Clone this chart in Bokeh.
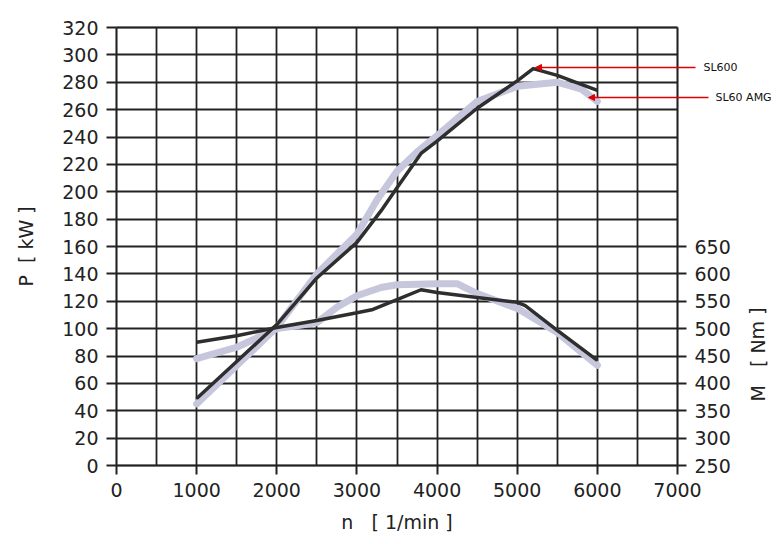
from bokeh.plotting import figure
from bokeh.models import (Range1d, LinearAxis, FixedTicker, Label, Arrow,
                          NormalHead, BoxAnnotation, Grid)
from bokeh.embed import file_html
from bokeh.resources import INLINE

# ---- data ----
rpm_p600 = [1000, 1500, 2000, 2500, 3000, 3300, 3500, 3800, 4000, 4500, 5000, 5200, 5500, 6000]
p600 = [49, 76, 103, 137, 163, 186, 203, 228, 237, 261, 281, 290, 285, 274]

rpm_pamg = [1000, 1500, 2000, 2500, 3000, 3250, 3500, 3750, 4000, 4500, 5000, 5500, 5800, 6000]
pamg = [45, 73, 101, 140, 169, 194, 215, 229, 241, 266, 277, 280, 275, 266]

rpm_m600 = [1000, 1500, 2000, 2500, 3000, 3200, 3500, 3800, 4000, 4500, 5000, 5100, 5500, 6000]
m600 = [475, 487, 502, 515, 529, 535, 553, 571, 566, 557, 548, 542, 497, 442]

rpm_mamg = [1000, 1500, 2000, 2250, 2500, 2750, 3000, 3300, 3500, 4000, 4250, 4500, 5000, 5500, 6000]
mamg = [445, 466, 500, 505, 511, 539, 560, 575, 580, 582, 582, 564, 537, 493, 433]

x_ticks = [0, 1000, 2000, 3000, 4000, 5000, 6000, 7000]
x_grid = list(range(0, 7001, 500))
p_ticks = list(range(0, 321, 20))
m_ticks = [250, 300, 350, 400, 450, 500, 550, 600, 650]

labels = ["SL600", "SL60 AMG"]

# ---- layout constants (pixels) ----
W, H = 774, 536
FX0, FX1 = 116, 677      # canvas x of 0 and 7000 rpm
FY0, FY1 = 465, 27       # canvas y (from top) of 0 and 320 kW
XMAX, PMAX = x_ticks[-1], p_ticks[-1]
sx = (FX1 - FX0) / XMAX
sy = (FY0 - FY1) / PMAX
x_start, x_end = -FX0 / sx, (W - FX0) / sx
y_start, y_end = -(H - FY0) / sy, FY0 / sy
M0, MK = m_ticks[0], 2.5   # torque = M0 + MK * power on the grid


def dx(px):
    return (px - FX0) / sx


def dy(py):
    return (FY0 - py) / sy


FONT = "DejaVu Sans"
INK = "#222222"
NB = "\u00a0"

p = figure(width=W, height=H, output_backend="svg", toolbar_location=None,
           x_range=Range1d(x_start, x_end), y_range=Range1d(y_start, y_end),
           min_border=0, x_axis_location=None, y_axis_location=None)
p.extra_y_ranges = {"M": Range1d(M0 + MK * y_start, M0 + MK * y_end)}
p.outline_line_color = None

# axes at fixed locations
xa = LinearAxis(ticker=FixedTicker(ticks=x_ticks, minor_ticks=[]),
                fixed_location=0, bounds=(0, XMAX))
ya = LinearAxis(ticker=FixedTicker(ticks=p_ticks, minor_ticks=[]),
                fixed_location=0, bounds=(0, PMAX))
ma = LinearAxis(y_range_name="M", ticker=FixedTicker(ticks=m_ticks, minor_ticks=[]),
                fixed_location=XMAX, bounds=(m_ticks[0], m_ticks[-1]))
for ax in (xa, ya, ma):
    ax.axis_line_color = None
    ax.major_tick_line_color = INK
    ax.major_tick_line_width = 2
    ax.major_tick_in = 0
    ax.major_tick_out = 10
    ax.minor_tick_line_color = None
    ax.major_label_text_font = FONT
    ax.major_label_text_font_size = "19px"
    ax.major_label_text_color = INK
    ax.axis_label_text_font = FONT
    ax.axis_label_text_font_size = "19px"
    ax.axis_label_text_font_style = "normal"
    ax.axis_label_text_color = INK
xa.major_tick_out = 9
xa.major_label_standoff = 8
ya.major_label_standoff = 8
ma.major_label_standoff = 8
ma.major_tick_out = 9
xa.axis_label = "n" + NB * 3 + "[ 1/min ]"
xa.axis_label_standoff = 11
ya.axis_label = "P" + NB * 2 + "[ kW ]"
ya.axis_label_standoff = 22
p.add_layout(xa, "below")
p.add_layout(ya, "left")
p.add_layout(ma, "right")

# grid limited to the chart box
for g in list(p.grid):
    g.visible = False
gx = Grid(dimension=0, ticker=FixedTicker(ticks=x_grid))
gy = Grid(dimension=1, ticker=FixedTicker(ticks=p_ticks))
use_cross = "cross_bounds" in Grid.properties()
for g, b, cb in ((gx, (0, XMAX), (0, PMAX)), (gy, (0, PMAX), (0, XMAX))):
    g.grid_line_color = INK
    g.grid_line_width = 1.8
    g.bounds = b
    if use_cross:
        g.cross_bounds = cb
    p.add_layout(g, "center")
if not use_cross:
    gx.visible = False
    gy.visible = False
    p.segment(x0=x_grid, y0=[0] * len(x_grid), x1=x_grid, y1=[PMAX] * len(x_grid),
              line_color=INK, line_width=1.8)
    p.segment(x0=[0] * len(p_ticks), y0=p_ticks, x1=[XMAX] * len(p_ticks), y1=p_ticks,
              line_color=INK, line_width=1.8)

p.add_layout(BoxAnnotation(left=0, right=XMAX, bottom=0, top=PMAX,
                           fill_alpha=0, line_color=INK, line_width=2.5,
                           level="underlay"))

# curves
LIGHT = "#c6c6dc"
DARK = "#2e2e2e"
p.line(rpm_pamg, pamg, line_color=LIGHT, line_width=7, line_join="round", line_cap="round")
p.line(rpm_mamg, mamg, y_range_name="M", line_color=LIGHT, line_width=7,
       line_join="round", line_cap="round")
p.line(rpm_p600, p600, line_color=DARK, line_width=3.5, line_join="round")
p.line(rpm_m600, m600, y_range_name="M", line_color=DARK, line_width=3.5, line_join="round")

# right axis title
p.add_layout(Label(x=dx(757), y=dy(354),
                   text="M" + NB * 3 + "[ Nm ]", angle=1.5708, text_font=FONT,
                   text_font_size="19px", text_color=INK,
                   text_align="center", text_baseline="middle"))

# annotations with red arrows
RED = "#e00000"
ya1, ya2 = dy(67), dy(97)
p.add_layout(Arrow(x_start=dx(695), y_start=ya1, x_end=dx(535), y_end=ya1,
                   line_color=RED, line_width=1.4, level="overlay",
                   end=NormalHead(size=6, fill_color=RED, line_color=RED)))
p.add_layout(Arrow(x_start=dx(708), y_start=ya2, x_end=dx(588), y_end=ya2,
                   line_color=RED, line_width=1.4, level="overlay",
                   end=NormalHead(size=6, fill_color=RED, line_color=RED)))
p.add_layout(Label(x=dx(703), y=ya1, text=labels[0], text_font=FONT,
                   text_font_size="11px", text_color="#111111",
                   text_baseline="middle", text_align="left"))
p.add_layout(Label(x=dx(715), y=ya2, text=labels[1], text_font=FONT,
                   text_font_size="11px", text_color="#111111",
                   text_baseline="middle", text_align="left"))

open("out.html", "w").write(file_html(p, INLINE))
